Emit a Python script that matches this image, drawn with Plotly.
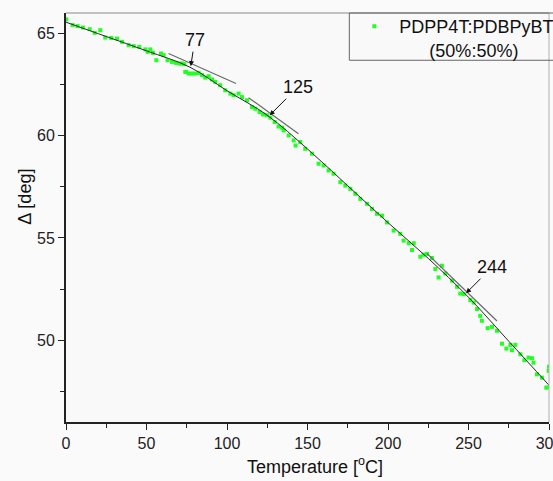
import plotly.graph_objects as go

# ---- data ----
temp = [0.2, 4.1, 7.2, 10.5, 14.7, 17.8, 21.3, 24.4, 28.1, 31.7, 34.8, 38.9, 42.0, 45.5,
        49.3, 50.7, 52.4, 54.0, 56.1, 59.0, 60.6, 63.1, 65.8, 68.3, 70.6, 72.0, 73.5, 74.1,
        74.7, 76.1, 78.2, 80.3, 82.4, 84.5, 86.5, 88.6, 90.7, 92.7, 95.8, 98.9, 102.1, 104.1,
        107.2, 109.3, 112.4, 115.5, 117.6, 120.2, 122.4, 124.8, 126.9, 129.6, 132.0, 134.2,
        135.2, 138.3, 141.4, 142.6, 145.5, 148.6, 152.8, 156.9, 160.0, 163.1, 166.2, 170.4,
        173.5, 176.6, 179.7, 182.8, 187.0, 190.0, 193.2, 196.3, 199.4, 203.5, 207.6, 209.7,
        212.9, 214.9, 216.0, 220.1, 222.1, 224.2, 227.3, 229.4, 231.4, 233.5, 235.6, 239.8,
        242.9, 244.9, 247.0, 251.1, 253.2, 255.3, 257.3, 258.3, 261.9, 264.6, 267.7, 270.8,
        273.5, 276.0, 277.0, 279.1, 282.2, 284.7, 287.3, 289.4, 290.4, 292.5, 295.6, 298.3,
        299.8, 299.8, 300.0]
delta = [65.69, 65.41, 65.36, 65.29, 65.21, 65.03, 65.16, 64.80, 64.78, 64.75, 64.59, 64.43,
         64.38, 64.34, 64.22, 64.10, 64.22, 64.05, 63.69, 64.02, 63.94, 63.69, 63.61, 63.56,
         63.53, 63.53, 63.50, 63.12, 63.12, 63.04, 63.04, 63.04, 63.07, 62.96, 62.84, 62.91,
         62.75, 62.63, 62.47, 62.22, 62.06, 61.98, 62.06, 61.89, 61.73, 61.40, 61.32, 61.16,
         61.04, 61.00, 60.88, 60.67, 60.45, 60.39, 60.26, 60.01, 59.77, 59.52, 59.69, 59.36,
         59.12, 58.63, 58.54, 58.30, 58.14, 57.73, 57.56, 57.40, 57.16, 56.91, 56.67, 56.42,
         56.18, 56.09, 55.76, 55.36, 55.20, 54.87, 54.74, 54.41, 54.74, 54.08, 54.18, 54.22,
         54.02, 53.48, 53.07, 53.64, 53.26, 52.91, 52.61, 52.28, 52.25, 51.96, 51.84, 51.52,
         51.19, 50.95, 50.59, 50.65, 50.46, 49.83, 49.59, 49.77, 49.51, 49.77, 49.31, 49.02,
         49.15, 49.12, 48.90, 48.33, 48.17, 47.68, 47.70, 48.50, 48.70]

# smooth fit through the data
fit_t = [0, 25, 50, 77, 100, 125, 150, 175, 200, 225, 250, 275, 300]
fit_d = [65.55, 64.85, 64.15, 63.35, 62.2, 61.0, 59.35, 57.55, 55.75, 54.0, 52.1, 49.95, 47.8]

# tangent segments at the transitions
tan_t = [[63.7, 105.6], [113.4, 144.4], [224.2, 267.7]]
tan_d = [[64.02, 62.55], [61.86, 60.09], [54.24, 50.94]]

# marked transition temperatures
mark_labels = ["77", "125", "244"]
mark_t = [77.5, 126.5, 248.5]
mark_d = [63.4, 61.0, 52.3]
label_dx = [4, 28, 26]
label_dy = [-26, -28, -26]

x_ticks = [0, 50, 100, 150, 200, 250, 300]
y_ticks = [50, 55, 60, 65]

FONT = "Liberation Sans, Arial, sans-serif"
NB = "\u00a0"

fig = go.Figure()

fig.add_trace(go.Scatter(
    x=temp, y=delta, mode="markers",
    marker=dict(symbol="square", size=4, color="#22ff22", line=dict(width=0)),
    name=NB + "PDPP4T:PDBPyBT<br>" + NB * 7 + "(50%:50%)",
    showlegend=True,
))

for tt, dd in zip(tan_t, tan_d):
    fig.add_trace(go.Scatter(x=tt, y=dd, mode="lines",
                             line=dict(color="#6a6a6a", width=1.2),
                             showlegend=False, hoverinfo="skip"))

fig.add_trace(go.Scatter(x=fit_t, y=fit_d, mode="lines", line_shape="spline",
                         line=dict(color="#2a2a2a", width=1),
                         showlegend=False, hoverinfo="skip"))

for lab, xt, yt, dx, dy in zip(mark_labels, mark_t, mark_d, label_dx, label_dy):
    fig.add_annotation(x=xt, y=yt, xref="x", yref="y", text=lab,
                       showarrow=True, ax=dx, ay=dy, arrowhead=2, arrowsize=1,
                       arrowwidth=1, arrowcolor="#111",
                       font=dict(family=FONT, size=18, color="#111"))

# axis titles
fig.add_annotation(x=0.515, y=-0.106, xref="paper", yref="paper",
                   text="Temperature [<sup>o</sup>C]", showarrow=False,
                   xanchor="center", yanchor="middle",
                   font=dict(family=FONT, size=18, color="#111"))
fig.add_annotation(x=-0.084, y=0.552, xref="paper", yref="paper",
                   text="\u0394 [deg]", showarrow=False, textangle=-90,
                   xanchor="center", yanchor="middle",
                   font=dict(family=FONT, size=18, color="#111"))

# top / right frame lines (lighter)
fig.add_shape(type="line", xref="paper", yref="paper", x0=0, x1=1, y0=1, y1=1,
              line=dict(color="#8a8a8a", width=1))
fig.add_shape(type="line", xref="paper", yref="paper", x0=1, x1=1, y0=0, y1=1,
              line=dict(color="#b0b0b0", width=1))
# legend frame
fig.add_shape(type="rect", xref="paper", yref="paper", x0=0.5866, x1=1.05,
              y0=0.8844, y1=1.0, line=dict(color="#666", width=1))

fig.update_xaxes(range=[0, 300], tickvals=x_ticks, ticks="outside", ticklen=6,
                 tickwidth=1.3, tickcolor="#222", showline=True, linecolor="#222",
                 linewidth=2, showgrid=False, zeroline=False, automargin=False,
                 ticklabeloverflow="allow",
                 minor=dict(dtick=25, tick0=0, ticks="outside", ticklen=4,
                            tickwidth=1.2, tickcolor="#222", showgrid=False),
                 tickfont=dict(family=FONT, size=16, color="#222"))
fig.update_yaxes(range=[46, 66], tickvals=y_ticks, ticks="outside", ticklen=6,
                 tickwidth=1.3, tickcolor="#222", showline=True, linecolor="#222",
                 linewidth=2, showgrid=False, zeroline=False, automargin=False,
                 minor=dict(dtick=2.5, tick0=0, ticks="outside", ticklen=4,
                            tickwidth=1.2, tickcolor="#222", showgrid=False),
                 tickfont=dict(family=FONT, size=16, color="#222"))

fig.update_layout(
    width=553, height=481,
    margin=dict(l=66, r=4, t=13, b=59, autoexpand=False),
    paper_bgcolor="#fafafa", plot_bgcolor="#f9f9f9",
    legend=dict(x=0.597, y=1.012, xanchor="left", yanchor="top", valign="top",
                borderwidth=0, bgcolor="rgba(0,0,0,0)",
                font=dict(family=FONT, size=18, color="#111")),
    showlegend=True,
)

fig.write_html("out.html", config={"displayModeBar": False},
               post_script="document.body.style.margin='0';document.body.style.overflow='hidden';")
